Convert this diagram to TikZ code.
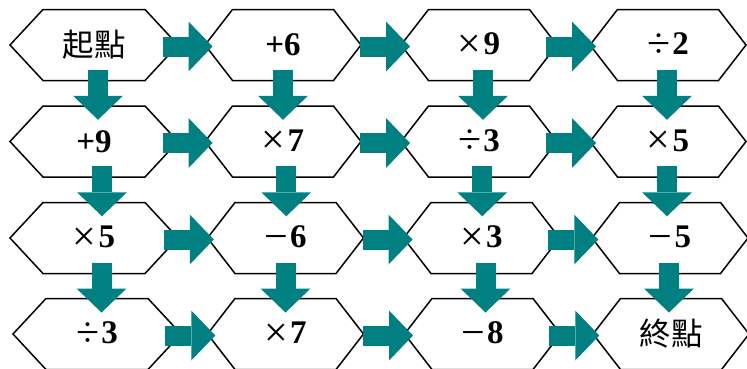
\documentclass[tikz,border=0pt]{standalone}
\usepackage{fontspec}
\setmainfont{Liberation Serif}
\newfontfamily\cjk{Noto Sans CJK TC}
\usetikzlibrary{calc,arrows.meta}
\definecolor{arrteal}{RGB}{0,128,128}
\newcommand\opnum[2]{\raisebox{-2.5pt}{\fontsize{42}{42}\selectfont #1}\hspace{0.06em}\textbf{#2}}
\newcommand\cjktext[1]{{\fontsize{31.5}{31.5}\selectfont\cjk #1}}
\begin{document}
\begin{tikzpicture}[x=1pt,y=-1pt,
  hexnode/.style={minimum height=71pt, minimum width=156pt, inner sep=0pt, outer sep=0pt,
    font=\fontsize{33}{33}\selectfont},
  widehex/.style={hexnode, minimum width=168pt},
  hexline/.style={line width=1.5pt, draw=black, line join=miter},
  rarr/.style={draw=arrteal, line width=20pt,
    -{Triangle[width=50pt,length=24pt,line width=0pt]}},
]
\fill[white] (0,0) rectangle (747,368);
\useasboundingbox (0,0) rectangle (747,368);

% nodes
\node[widehex] (n11) at (94,45)    {\cjktext{起點}};
\node[hexnode] (n12) at (283,45)   {\textbf{+6}};
\node[hexnode] (n13) at (479,45)   {\opnum{×}{9}};
\node[hexnode] (n14) at (668,45)   {\opnum{÷}{2}};
\node[widehex] (n21) at (94,141.5) {\textbf{+9}};
\node[hexnode] (n22) at (283,141.5){\opnum{×}{7}};
\node[hexnode] (n23) at (479,141.5){\opnum{÷}{3}};
\node[hexnode] (n24) at (668,141.5){\opnum{×}{5}};
\node[widehex] (n31) at (94,238)   {\opnum{×}{5}};
\node[hexnode] (n32) at (285.5,238){\opnum{−}{6}};
\node[hexnode] (n33) at (481.5,238){\opnum{×}{3}};
\node[hexnode] (n34) at (670,238)  {\opnum{−}{5}};
\node[widehex] (n41) at (97,334)   {\opnum{÷}{3}};
\node[hexnode] (n42) at (285.5,334){\opnum{×}{7}};
\node[hexnode] (n43) at (482.5,334){\opnum{−}{8}};
\node[hexnode] (n44) at (671,334)  {\cjktext{終點}};

% hexagon outlines
\foreach \n/\s in {n11/33,n12/27.5,n13/27.5,n14/27.5,
                   n21/33,n22/27.5,n23/27.5,n24/27.5,
                   n31/33,n32/27.5,n33/27.5,n34/27.5,
                   n41/33,n42/27.5,n43/27.5,n44/27.5}
  \draw[hexline] (\n.west) -- ([xshift=\s pt]\n.north west) -- ([xshift=-\s pt]\n.north east)
    -- (\n.east) -- ([xshift=-\s pt]\n.south east) -- ([xshift=\s pt]\n.south west) -- cycle;

% right arrows
\foreach \a/\b/\dx in {n11/n12/-4,n12/n13/4,n13/n14/-2.5,
                       n21/n22/-4,n22/n23/4,n23/n24/-2.5,
                       n31/n32/-4,n32/n33/4,n33/n34/-2.5,
                       n41/n42/-4,n42/n43/4,n43/n44/-2.5}
  \draw[rarr] ($(\a.east)!.5!(\b.west)+(\dx-25,1.5)$) -- ($(\a.east)!.5!(\b.west)+(\dx+25,1.5)$);

% down arrows
\foreach \a/\b/\dx in {n11/n21/4,n21/n31/8,n31/n41/6,
                       n12/n22/0,n22/n32/2,n32/n42/0,
                       n13/n23/4,n23/n33/2,n33/n43/3.5,
                       n14/n24/-1,n24/n34/-2,n34/n44/-1.5}
  \draw[rarr] ($(\a.south)!.5!(\b.north)+(\dx,-23.5)$) -- ($(\a.south)!.5!(\b.north)+(\dx,26.5)$);
\end{tikzpicture}
\end{document}
